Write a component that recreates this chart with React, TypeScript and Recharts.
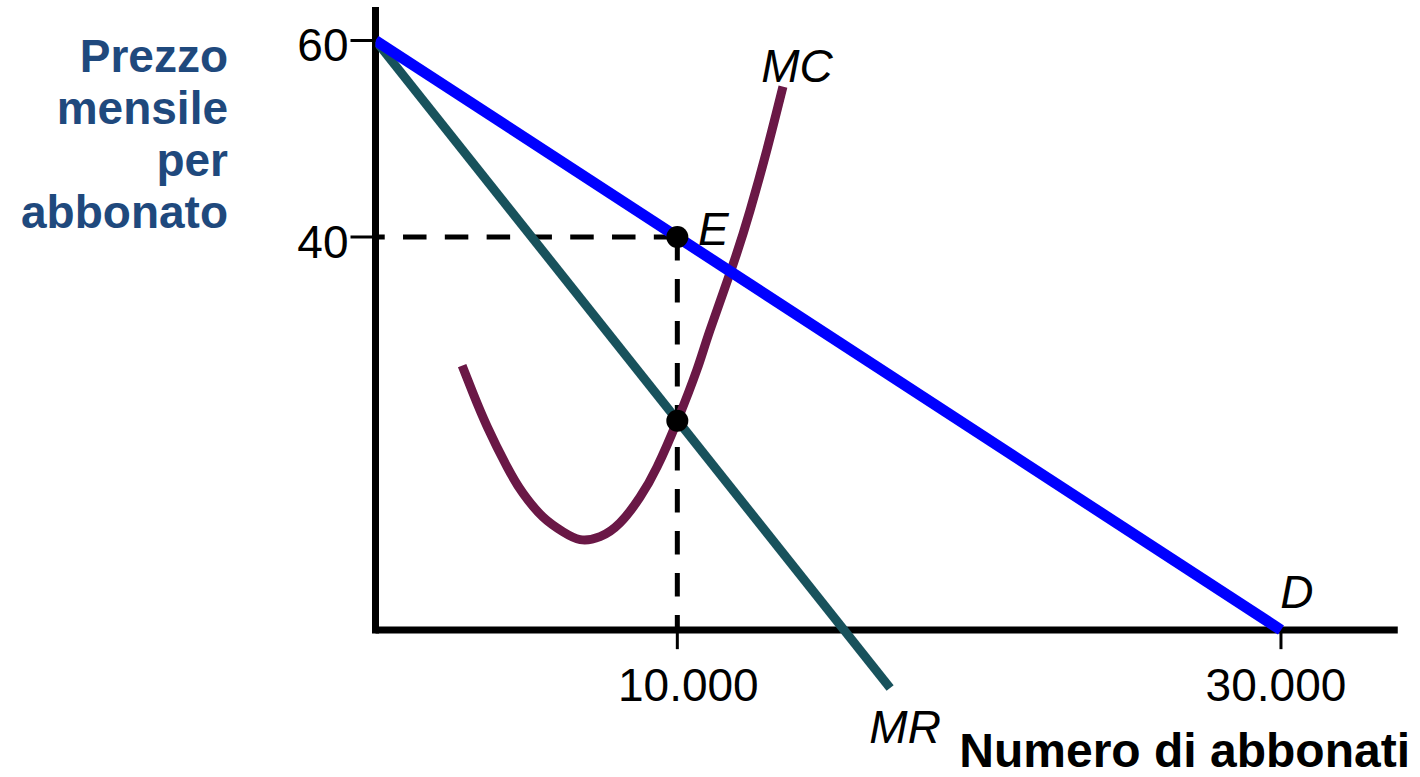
import React from "react";
import { LineChart, Line, XAxis, YAxis, ReferenceLine, ReferenceDot, Label } from "recharts";

// quantities (subscribers) and monthly prices
const demand = [
  { q: 0, p: 60 },
  { q: 30000, p: 0 },
];

const marginalRevenue = [
  { q: 0, p: 60 },
  { q: 17050, p: -5.9 },
];

const marginalCost = [
  { q: 2870, p: 26.9 },
  { q: 3230, p: 24.1 },
  { q: 3700, p: 20.7 },
  { q: 4360, p: 16.6 },
  { q: 4890, p: 13.9 },
  { q: 5550, p: 11.5 },
  { q: 6210, p: 10.0 },
  { q: 6780, p: 9.2 },
  { q: 7440, p: 9.5 },
  { q: 8100, p: 10.9 },
  { q: 8760, p: 13.5 },
  { q: 9330, p: 16.6 },
  { q: 10000, p: 21.3 },
  { q: 10650, p: 26.5 },
  { q: 11080, p: 30.5 },
  { q: 11845, p: 37.2 },
  { q: 12410, p: 42.7 },
  { q: 12970, p: 48.9 },
  { q: 13500, p: 55.3 },
];

const priceTicks = [40, 60];
const quantityTicks = [
  { q: 10000, label: "10.000" },
  { q: 30000, label: "30.000" },
];

const equilibrium = { q: 10000, p: 40 };
const mrMcCross = { q: 10000, p: 21.3 };

const FONT = '"Liberation Sans", Arial, Helvetica, sans-serif';
const BLUE_TITLE = "#1f497d";

// text placed relative to the centre of the element it belongs to
const tag = (text: string, dx: number, dy: number, anchor: string = "middle", italic = true) =>
  (props: any) => {
    const vb = props.viewBox || {};
    const cx = (vb.x ?? 0) + (vb.width ?? 0) / 2;
    const cy = (vb.y ?? 0) + (vb.height ?? 0) / 2;
    return (
      <text
        x={cx + dx}
        y={cy + dy}
        textAnchor={anchor as any}
        fontFamily={FONT}
        fontSize={46}
        fontStyle={italic ? "italic" : "normal"}
        fill="#000"
      >
        {text}
      </text>
    );
  };

const PriceTick = (props: any) => {
  const { x, y, payload } = props;
  return (
    <text x={x} y={y + 21} textAnchor="end" fontFamily={FONT} fontSize={46} fill="#000">
      {payload.value}
    </text>
  );
};

export default function App() {
  return (
    <div style={{ position: "absolute", left: 0, top: 0, width: 1420, height: 777, overflow: "hidden", background: "#fff" }}>
      <LineChart
        width={1420}
        height={777}
        margin={{ top: 6.1, right: 18.3, bottom: 48.75, left: 275.5 }}
      >
        <XAxis type="number" dataKey="q" domain={[0, 34000]} hide allowDataOverflow />
        <YAxis
          type="number"
          dataKey="p"
          domain={[-10, 63.5]}
          allowDataOverflow
          ticks={priceTicks}
          width={100}
          axisLine={false}
          tickSize={25}
          tickLine={{ stroke: "#000", strokeWidth: 3 }}
          tick={<PriceTick />}
        />

        {/* axes drawn as segments so the x axis sits at price 0 */}
        <ReferenceLine segment={[{ x: 0, y: -0.36 }, { x: 0, y: 63.4 }]} stroke="#000" strokeWidth={7} />
        <ReferenceLine segment={[{ x: 0, y: 0 }, { x: 33870, y: 0 }]} stroke="#000" strokeWidth={7} />
        {quantityTicks.map((t) => (
          <ReferenceLine
            key={t.q}
            segment={[{ x: t.q, y: 0 }, { x: t.q, y: -1.95 }]}
            stroke="#000"
            strokeWidth={3}
          >
            <Label content={tag(t.label, t.q === 10000 ? 11 : -5, 61.5, "middle", false)} />
          </ReferenceLine>
        ))}

        <ReferenceLine
          segment={[{ x: equilibrium.q, y: equilibrium.p }, { x: 0, y: equilibrium.p }]}
          stroke="#000"
          strokeWidth={5}
          strokeDasharray="23.5 18.3"
        />
        <ReferenceLine
          segment={[{ x: equilibrium.q, y: equilibrium.p }, { x: equilibrium.q, y: 0 }]}
          stroke="#000"
          strokeWidth={5}
          strokeDasharray="23.5 18.5"
        />

        <Line data={marginalCost} dataKey="p" type="natural" stroke="#6a1846" strokeWidth={9} dot={false} isAnimationActive={false} />
        <Line data={marginalRevenue} dataKey="p" type="linear" stroke="#18525c" strokeWidth={9} dot={false} isAnimationActive={false} />
        <Line data={demand} dataKey="p" type="linear" stroke="#0000ff" strokeWidth={11} dot={false} isAnimationActive={false} />

        <ReferenceDot x={equilibrium.q} y={equilibrium.p} r={11} fill="#000" stroke="none">
          <Label content={tag("E", 36, 8)} />
        </ReferenceDot>
        <ReferenceDot x={mrMcCross.q} y={mrMcCross.p} r={11} fill="#000" stroke="none" />

        <ReferenceDot x={13500} y={55.3} r={0} fill="none" stroke="none">
          <Label content={tag("MC", 14, -5)} />
        </ReferenceDot>
        <ReferenceDot x={17050} y={-5.9} r={0} fill="none" stroke="none">
          <Label content={tag("MR", 15, 55)} />
        </ReferenceDot>
        <ReferenceDot x={30000} y={0} r={0} fill="none" stroke="none">
          <Label content={tag("D", 16, -22)} />
        </ReferenceDot>
      </LineChart>

      <div
        style={{
          position: "absolute",
          left: 0,
          top: 30,
          width: 228,
          textAlign: "right",
          fontFamily: FONT,
          fontWeight: "bold",
          fontSize: 46,
          lineHeight: "52px",
          color: BLUE_TITLE,
        }}
      >
        Prezzo
        <br />
        mensile
        <br />
        per
        <br />
        abbonato
      </div>
      <div
        style={{
          position: "absolute",
          left: 860,
          top: 727,
          width: 550,
          textAlign: "right",
          fontFamily: FONT,
          fontWeight: "bold",
          fontSize: 48,
          lineHeight: "48px",
          color: "#000",
          whiteSpace: "nowrap",
        }}
      >
        Numero di abbonati
      </div>
    </div>
  );
}
